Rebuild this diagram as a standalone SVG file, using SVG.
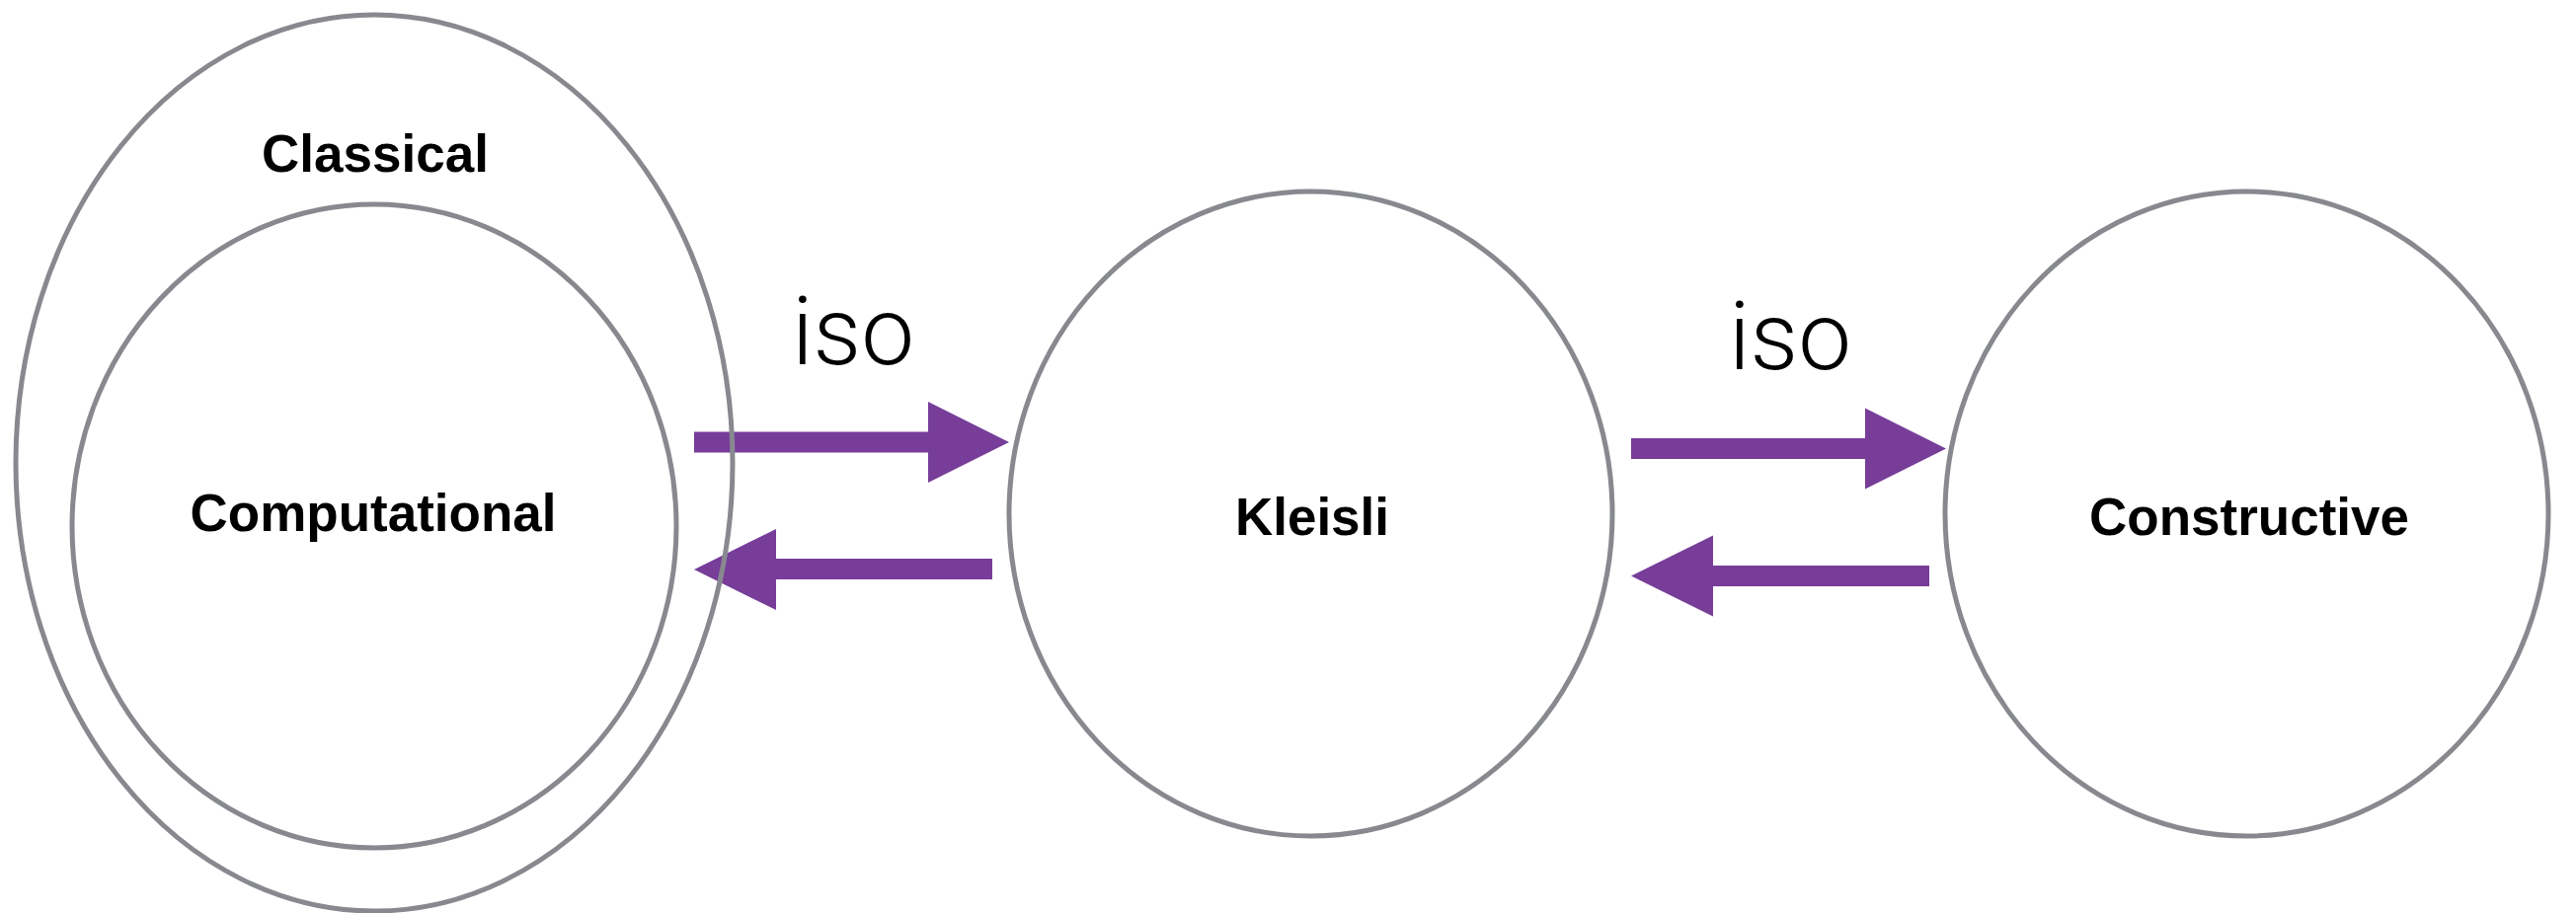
<svg xmlns="http://www.w3.org/2000/svg" width="2609" height="925" viewBox="0 0 2609 925">
<style>
.node{fill:none;stroke:#87898e;stroke-width:5}
.lbl{font-family:"Liberation Sans",Arial,Helvetica,sans-serif;font-weight:bold;font-size:53px;fill:#000;text-anchor:middle}
.iso{font-family:Roboto,"Liberation Sans",sans-serif;font-weight:300;font-size:96px;fill:#000;text-anchor:middle}
.arrow{fill:#773d99;stroke:none}
</style>
<rect width="2609" height="925" fill="#fff"/>
<g id="connectors">
  <polygon class="arrow" points="703,437.5 940,437.5 940,407 1022,448 940,489 940,458.5 703,458.5"/>
  <polygon class="arrow" points="1005,566 786,566 786,536 703,577 786,618 786,587 1005,587"/>
  <polygon class="arrow" points="1652,444 1889,444 1889,413.5 1971,454.5 1889,495.5 1889,465 1652,465"/>
  <polygon class="arrow" points="1954,573 1735,573 1735,542.5 1652,583.5 1735,624.5 1735,594 1954,594"/>
  <text class="iso" x="864" y="369">iso</text>
  <text class="iso" x="1813" y="374">iso</text>
</g>
<g id="classical">
  <ellipse class="node" cx="379" cy="469" rx="363" ry="454"/>
  <text class="lbl" x="380" y="174">Classical</text>
</g>
<g id="computational">
  <ellipse class="node" cx="379" cy="533" rx="306" ry="326"/>
  <text class="lbl" x="378" y="538">Computational</text>
</g>
<g id="kleisli">
  <ellipse class="node" cx="1327.5" cy="520.5" rx="305.5" ry="326.5"/>
  <text class="lbl" x="1329" y="542">Kleisli</text>
</g>
<g id="constructive">
  <ellipse class="node" cx="2275.5" cy="520.5" rx="305.5" ry="326.5"/>
  <text class="lbl" x="2278" y="542">Constructive</text>
</g>
</svg>
